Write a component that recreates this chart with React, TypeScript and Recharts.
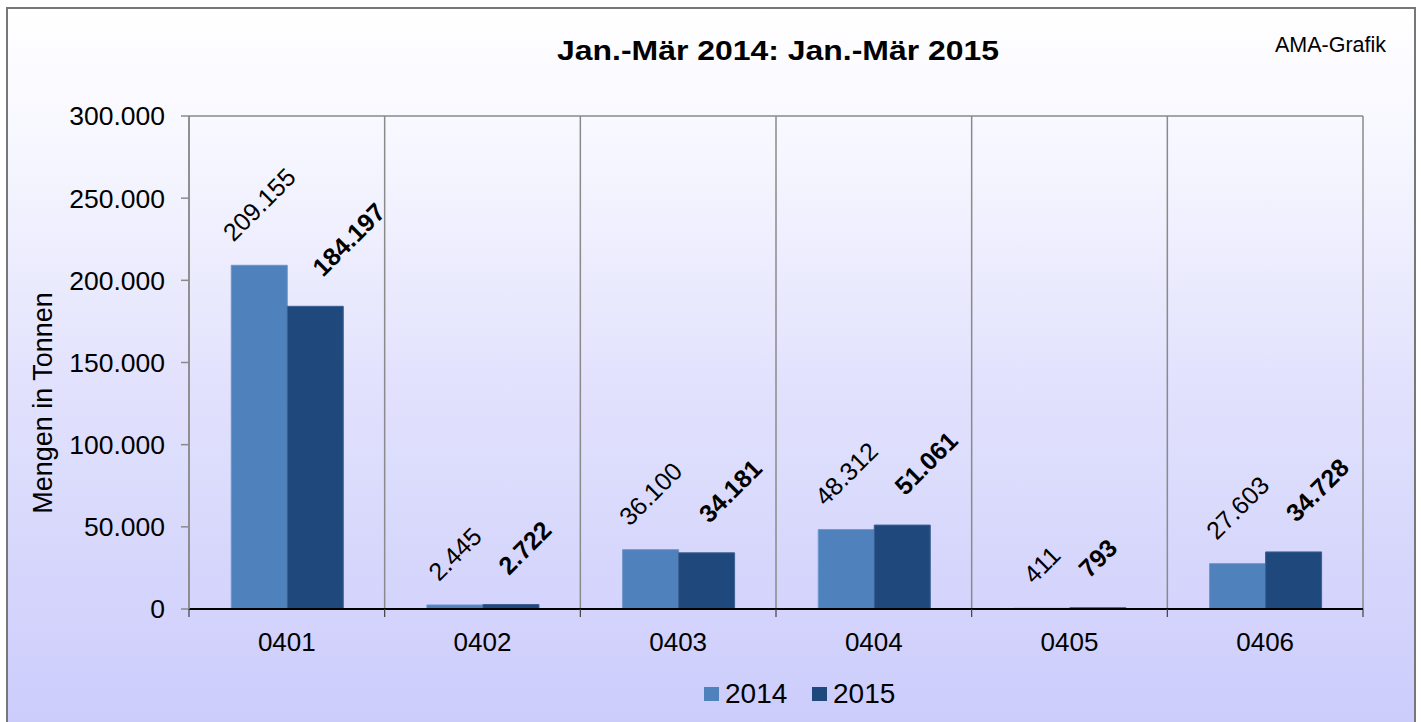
import React from 'react';
import { BarChart, Bar, XAxis, YAxis, CartesianGrid, ReferenceLine, LabelList } from 'recharts';

const categories = ['0401', '0402', '0403', '0404', '0405', '0406'];
const values2014 = [209155, 2445, 36100, 48312, 411, 27603];
const values2015 = [184197, 2722, 34181, 51061, 793, 34728];
const yTicks = [0, 50000, 100000, 150000, 200000, 250000, 300000];
const seriesNames = ['2014', '2015'];
const seriesColors = ['#4F81BD', '#1F497D'];
const seriesStrokes = ['#6E95CB', '#3D5F8F'];
const titleText = 'Jan.-Mär 2014: Jan.-Mär 2015';
const sourceText = 'AMA-Grafik';
const yAxisTitle = 'Mengen in Tonnen';

const data = categories.map((c, i) => ({ cat: c, v2014: values2014[i], v2015: values2015[i] }));

const W = 1421;
const H = 722;
const PLOT_L = 189;
const PLOT_T = 116;
const PLOT_R = 1363;
const PLOT_B = 609;
const FONT = '"Liberation Sans", Arial, Helvetica, sans-serif';
const LABEL_FS = 25;

const fmt = (v: number) => String(Math.round(v)).replace(/\B(?=(\d{3})+(?!\d))/g, '.');
const textW = (s: string, fs: number) => {
  let w = 0;
  for (const ch of s) w += ch === '.' ? 0.278 : 0.556;
  return w * fs;
};
const boxSide = (s: string) => (textW(s, LABEL_FS) + LABEL_FS) * 0.7071;

const geom = (p: any) => {
  const vb = p.viewBox || {};
  const x = Number(vb.x ?? p.x);
  const y = Number(vb.y ?? p.y);
  const width = Number(vb.width ?? p.width);
  const height = Number(vb.height ?? p.height);
  return { x, y, width, height };
};

const Label2014 = (p: any) => {
  const { x, y, width } = geom(p);
  const s = fmt(Number(p.value));
  const cx = x + width / 2;
  const cy = y - 20 - boxSide(s) / 2;
  return (
    <text x={cx} y={cy} dy="0.35em" textAnchor="middle" transform={`rotate(-45 ${cx} ${cy})`}
      fontFamily={FONT} fontSize={LABEL_FS} fill="#000">{s}</text>
  );
};

const Label2015 = (p: any) => {
  const { x, y, width } = geom(p);
  const v = Number(p.value);
  const idx = Number(p.index);
  const s = fmt(v);
  const half = boxSide(s) / 2;
  const v14 = values2014[idx] ?? 0;
  const s14 = fmt(v14);
  const cx14 = x - width / 2;
  const right14 = cx14 + boxSide(s14) / 2;
  const cx = Math.max(x + width / 2, right14 + 8 + half);
  const cy = y - 26 - half;
  return (
    <text x={cx} y={cy} dy="0.35em" textAnchor="middle" transform={`rotate(-45 ${cx} ${cy})`}
      fontFamily={FONT} fontSize={LABEL_FS} fontWeight="bold" fill="#000">{s}</text>
  );
};

const band = (PLOT_R - PLOT_L) / categories.length;

const XTick = (p: any) => {
  const { x, y, payload, index } = p;
  const lx = x - band / 2;
  const rx = x + band / 2;
  return (
    <g>
      <line x1={lx} y1={y} x2={lx} y2={y + 8} stroke="#404040" strokeWidth={1.2} />
      {index === categories.length - 1 && (
        <line x1={rx} y1={y} x2={rx} y2={y + 8} stroke="#404040" strokeWidth={1.2} />
      )}
      <text x={x} y={y + 42} textAnchor="middle" fontFamily={FONT} fontSize={26} fill="#000">
        {payload.value}
      </text>
    </g>
  );
};

export default function App() {
  return (
    <div style={{ position: 'absolute', left: 0, top: 0, width: W, height: H, overflow: 'hidden', background: '#fff' }}>
      <div
        style={{
          position: 'absolute', left: 6, top: 7, width: 1410, height: 740, boxSizing: 'border-box',
          border: '2px solid #777777',
          background: 'linear-gradient(to bottom, #FFFFFF 0%, #F6F6FF 20%, #E2E2FD 50%, #CBCBFC 100%)',
        }}
      />
      <div style={{ position: 'absolute', left: 0, top: 0 }}>
        <BarChart
          width={W}
          height={H}
          data={data}
          margin={{ top: PLOT_T, right: W - PLOT_R, bottom: 0, left: 0 }}
          barCategoryGap="21.6%"
          barGap={0}
        >
          <CartesianGrid
            horizontal={false}
            vertical
            stroke="#8A8A8A"
            strokeWidth={1.5}
            verticalCoordinatesGenerator={({ offset }: any) =>
              categories.map((_, i) => offset.left + (i * offset.width) / categories.length).concat([offset.left + offset.width])
            }
          />
          <ReferenceLine y={300000} stroke="#8A8A8A" strokeWidth={1.5} ifOverflow="extendDomain" />
          <XAxis
            dataKey="cat"
            height={H - PLOT_B}
            axisLine={{ stroke: '#000', strokeWidth: 1.8 }}
            tickLine={false}
            tickSize={0}
            tickMargin={0}
            interval={0}
            tick={<XTick />}
          />
          <YAxis
            width={PLOT_L}
            domain={[0, 300000]}
            ticks={yTicks}
            interval={0}
            allowDataOverflow
            tickFormatter={(v: number) => fmt(v)}
            axisLine={{ stroke: '#8A8A8A', strokeWidth: 1.5 }}
            tickLine={{ stroke: '#8A8A8A', strokeWidth: 1.5 }}
            tickSize={8}
            tickMargin={16}
            tick={{ fontFamily: FONT, fontSize: 26.5, fill: '#000' }}
          />
          <Bar dataKey="v2014" name={seriesNames[0]} fill={seriesColors[0]} stroke={seriesStrokes[0]} strokeWidth={1} isAnimationActive={false}>
            <LabelList dataKey="v2014" content={<Label2014 />} />
          </Bar>
          <Bar dataKey="v2015" name={seriesNames[1]} fill={seriesColors[1]} stroke={seriesStrokes[1]} strokeWidth={1} isAnimationActive={false}>
            <LabelList dataKey="v2015" content={<Label2015 />} />
          </Bar>
        </BarChart>
      </div>
      <svg width={W} height={H} style={{ position: 'absolute', left: 0, top: 0, pointerEvents: 'none' }}>
        <text x={778} y={60} textAnchor="middle" fontFamily={FONT} fontSize={27} fontWeight="bold" fill="#000"
          textLength={442} lengthAdjust="spacingAndGlyphs">{titleText}</text>
        <text x={1386} y={52} textAnchor="end" fontFamily={FONT} fontSize={21.5} fill="#000">{sourceText}</text>
        <text transform="translate(52 403) rotate(-90)" x={0} y={0} textAnchor="middle" fontFamily={FONT} fontSize={27} fill="#000">
          {yAxisTitle}
        </text>
        {seriesNames.map((n, i) => {
          const x0 = 704 + i * 108;
          return (
            <g key={n}>
              <rect x={x0} y={687} width={15} height={14} fill={seriesColors[i]} />
              <text x={x0 + 21} y={703} fontFamily={FONT} fontSize={28} fill="#000">{n}</text>
            </g>
          );
        })}
      </svg>
    </div>
  );
}
